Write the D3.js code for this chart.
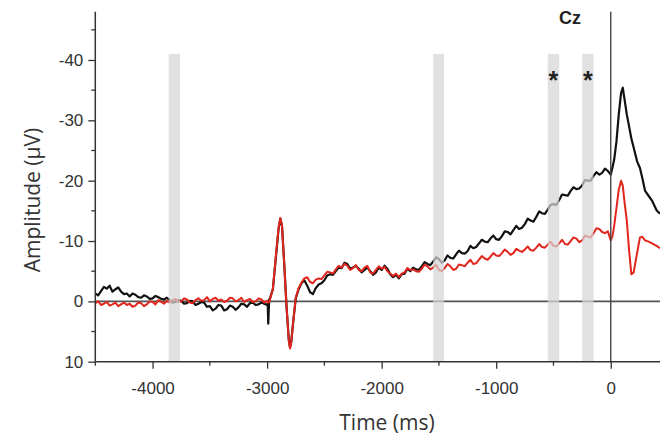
<!DOCTYPE html>
<html>
<head>
<meta charset="utf-8">
<script src="https://cdn.jsdelivr.net/npm/d3@7/dist/d3.min.js"></script>
<style>
  html, body { margin: 0; padding: 0; background: #fff; }
  svg { display: block; }
</style>
</head>
<body>
<svg id="chart" width="660" height="437"></svg>
<script>
// ---- DATA ----
const times = [
  -4500,-4475,-4450,-4425,-4400,-4375,-4350,-4325,-4300,-4275,
  -4250,-4225,-4200,-4175,-4150,-4125,-4100,-4075,-4050,-4025,
  -4000,-3975,-3950,-3925,-3900,-3875,-3850,-3825,-3800,-3775,
  -3750,-3725,-3700,-3675,-3650,-3625,-3600,-3575,-3550,-3525,
  -3500,-3475,-3450,-3425,-3400,-3375,-3350,-3325,-3300,-3275,
  -3250,-3225,-3200,-3175,-3150,-3125,-3100,-3075,-3050,
  -3025,-3000,-2995,-2990,-2982,-2975,-2950,-2925,-2900,-2885,
  -2870,-2850,-2830,-2810,-2800,-2790,-2770,-2750,-2725,-2700,
  -2675,-2650,-2625,-2600,-2575,-2550,-2525,
  -2500,-2475,-2450,-2425,-2400,-2375,-2350,-2325,-2300,-2275,
  -2250,-2225,-2200,-2175,-2150,-2125,-2100,-2075,-2050,-2025,
  -2000,-1975,-1950,-1925,-1900,-1875,-1850,-1825,-1800,-1775,
  -1750,-1725,-1700,-1675,-1650,-1625,-1600,-1575,-1550,-1525,
  -1500,-1475,-1450,-1425,-1400,-1375,-1350,-1325,-1300,-1275,
  -1250,-1225,-1200,-1175,-1150,-1125,-1100,-1075,-1050,-1025,
  -1000,-975,-950,-925,-900,-875,-850,-825,-800,-775,
  -750,-725,-700,-675,-650,-625,-600,-575,-550,-525,
  -500,-475,-450,-425,-400,-375,-350,-325,-300,-275,
  -250,-225,-200,-175,-150,-125,-100,
  -75,-50,-25,0,15,30,50,70,90,105,
  120,140,160,180,200,230,255,275,300,330,
  360,400,430
];
const blackValues = [
  -1.3,-1.0,-1.7,-2.4,-2.1,-2.6,-1.6,-2.0,-2.3,-1.6,
  -1.2,-1.3,-0.8,-1.3,-1.1,-0.7,-0.6,-1.0,-0.8,-0.4,
  -0.5,-0.9,-0.7,-0.4,-0.3,-0.6,-0.2,0.2,0.1,-0.2,
  -0.1,0.4,0.3,-0.1,0.0,0.6,0.4,0.1,0.2,0.9,
  0.8,1.5,1.2,0.6,0.7,1.5,1.3,0.7,0.9,1.4,
  1.0,0.4,0.5,0.9,0.3,0.2,0.6,0.5,0.2,
  0.4,0.6,0.4,3.7,-0.3,-0.5,-2.0,-7.0,-12.0,-13.7,
  -12.5,-6.0,1.0,6.5,7.6,6.8,3.0,-0.5,-2.0,-3.0,
  -3.5,-2.6,-1.5,-1.2,-2.2,-2.8,-3.0,
  -3.5,-4.3,-4.5,-4.4,-5.0,-5.6,-5.5,-6.4,-6.2,-5.4,
  -5.6,-5.9,-5.4,-4.8,-5.2,-5.6,-5.0,-4.4,-4.8,-5.6,
  -5.2,-5.9,-5.4,-4.5,-4.0,-4.4,-3.8,-4.5,-4.6,-5.4,
  -5.0,-5.6,-5.3,-5.2,-5.8,-6.5,-6.2,-6.0,-6.6,-7.3,
  -7.0,-6.4,-6.8,-7.6,-7.2,-7.1,-7.8,-8.4,-8.0,-7.9,
  -8.3,-9.2,-8.8,-9.0,-9.6,-10.2,-9.9,-9.8,-10.4,-10.9,
  -10.3,-10.2,-10.8,-11.6,-11.5,-11.1,-11.8,-12.5,-12.0,-12.2,
  -12.8,-13.7,-13.4,-13.2,-14.0,-14.9,-14.6,-14.5,-15.2,-16.0,
  -16.1,-16.0,-16.8,-17.7,-17.6,-17.5,-18.3,-18.9,-18.6,-18.7,
  -19.2,-20.1,-20.0,-20.0,-20.8,-21.4,-21.0,
  -21.3,-22.0,-21.6,-21.0,-22.2,-23.5,-26.5,-31.0,-34.5,-35.4,
  -33.5,-31.0,-29.0,-27.0,-25.5,-23.2,-22.1,-20.5,-18.3,-17.5,
  -16.7,-15.1,-14.5
];
const redValues = [
  0.3,0.0,0.6,0.4,0.1,0.7,0.5,0.2,0.8,0.5,
  0.2,0.6,0.4,0.9,0.7,0.2,0.3,0.8,0.5,0.0,
  0.1,0.5,-0.2,0.1,0.4,-0.1,0.2,-0.2,-0.4,0.1,
  0.0,-0.5,-0.3,0.2,0.3,-0.2,-0.5,-0.1,-0.2,-0.7,
  0.0,-0.4,-0.6,-0.1,-0.3,0.1,-0.1,-0.6,-0.5,0.0,
  -0.2,-0.6,0.1,-0.2,-0.4,0.1,0.0,-0.5,-0.3,
  0.2,-0.1,0.1,0.2,0.1,-0.3,-2.0,-7.2,-12.2,-13.8,
  -12.6,-6.0,1.0,6.6,7.8,6.9,3.0,-0.6,-2.2,-3.1,
  -3.8,-4.0,-3.2,-3.0,-3.6,-3.8,-3.7,
  -4.3,-4.9,-4.8,-4.6,-5.3,-5.9,-5.6,-6.2,-5.9,-5.2,
  -5.5,-6.0,-5.2,-5.0,-5.6,-5.9,-4.8,-4.6,-5.2,-5.8,
  -5.4,-5.7,-5.0,-4.6,-4.2,-4.6,-4.0,-4.6,-4.8,-5.5,
  -5.2,-5.3,-5.0,-4.9,-5.4,-6.1,-5.8,-5.3,-5.6,-6.1,
  -5.2,-5.0,-5.5,-6.2,-5.8,-5.2,-5.4,-6.1,-6.0,-5.8,
  -6.4,-6.9,-6.2,-6.3,-6.9,-7.5,-7.1,-6.9,-7.4,-8.0,
  -7.6,-7.5,-8.0,-8.6,-8.2,-7.7,-8.0,-8.7,-8.4,-8.2,
  -8.6,-9.1,-8.5,-8.4,-8.9,-9.5,-9.0,-8.9,-9.4,-9.9,
  -9.2,-9.1,-9.6,-10.2,-9.5,-9.4,-10.0,-10.6,-10.4,-9.8,
  -10.1,-10.9,-10.7,-10.6,-11.3,-12.1,-12.0,
  -11.5,-11.3,-11.6,-10.1,-10.8,-12.5,-15.5,-18.5,-20.0,-19.2,
  -16.5,-13.4,-8.5,-4.5,-4.8,-8.0,-10.6,-10.7,-10.1,-9.9,
  -9.6,-9.2,-8.8
];
const bandRanges = [[-3860,-3760],[-1550,-1455],[-550,-450],[-250,-150]];
const starBands = [2,3];
const xTickValues = [-4000,-3000,-2000,-1000,0];
const xMinorTicks = [-4500,-3500,-2500,-1500,-500];
const yTickValues = [-40,-30,-20,-10,0,10];
const yMinorTicks = [-45,-35,-25,-15,-5,5];
const channelLabel = "Cz";
const xTitle = "Time (ms)";
const yTitle = "Amplitude (\u00B5V)";

// ---- CHART ----
const svg = d3.select("#chart");
const x = d3.scaleLinear().domain([-4500, 430]).range([95.3, 660]);
const y = d3.scaleLinear().domain([10, -48]).range([361.7, 11.7]);
const bandTop = -41;

const n = Math.min(times.length, blackValues.length, redValues.length);
const black = times.slice(0, n).map((t,i)=>({t, v: blackValues[i]}));
const red = times.slice(0, n).map((t,i)=>({t, v: redValues[i]}));

svg.append("defs").append("clipPath").attr("id","clip")
  .append("rect").attr("x", x(-4500)).attr("y", 0).attr("width", 660 - x(-4500)).attr("height", y(10));

const line = d3.line().x(d=>x(d.t)).y(d=>y(d.v)).curve(d3.curveLinear);

const plot = svg.append("g").attr("clip-path","url(#clip)");

// zero line
plot.append("line").attr("x1", x(-4500)).attr("x2", 660).attr("y1", y(0)).attr("y2", y(0))
  .attr("stroke","#555").attr("stroke-width",1.6);

plot.append("path").datum(black).attr("d", line).attr("fill","none")
  .attr("stroke","#111").attr("stroke-width",2.2).attr("stroke-linejoin","round");
plot.append("path").datum(red).attr("d", line).attr("fill","none")
  .attr("stroke","#e0261d").attr("stroke-width",2).attr("stroke-linejoin","round");

// shaded bands over lines
plot.selectAll("rect.band").data(bandRanges).join("rect").attr("class","band")
  .attr("x", d=>x(d[0])).attr("width", d=>x(d[1])-x(d[0]))
  .attr("y", y(bandTop)).attr("height", y(10)-y(bandTop))
  .attr("fill","#d6d6d6").attr("opacity",0.72);

// vertical line at 0
svg.append("line").attr("x1", x(0)).attr("x2", x(0)).attr("y1", y(-48)).attr("y2", y(10))
  .attr("stroke","#444").attr("stroke-width",1.4);

// axes
const xAxis = d3.axisBottom(x).tickValues(xTickValues).tickSize(7).tickPadding(13)
  .tickFormat(d=>String(d));
const gx = svg.append("g").attr("transform",`translate(0,${y(10)})`).call(xAxis);
gx.select(".domain").attr("stroke","#333").attr("stroke-width",1.5)
  .attr("d", `M${x(-4500)},0H660`);
gx.selectAll(".tick line").attr("stroke","#333").attr("stroke-width",1.3);
gx.selectAll(".tick text").attr("font-family","'Liberation Sans', Arial, sans-serif")
  .attr("font-size",17).attr("fill","#333");
gx.selectAll("line.minor").data(xMinorTicks).join("line").attr("class","minor")
  .attr("x1", d=>x(d)).attr("x2", d=>x(d)).attr("y1", 0).attr("y2", 4)
  .attr("stroke","#333").attr("stroke-width",1.3);

const yAxis = d3.axisLeft(y).tickValues(yTickValues).tickSize(7).tickPadding(5)
  .tickFormat(d=>String(d));
const gy = svg.append("g").attr("transform",`translate(${x(-4500)},0)`).call(yAxis);
gy.select(".domain").attr("stroke","#333").attr("stroke-width",1.5)
  .attr("d", `M0,${y(-48)}V${y(10)}`);
gy.selectAll(".tick line").attr("stroke","#333").attr("stroke-width",1.3);
gy.selectAll(".tick text").attr("font-family","'Liberation Sans', Arial, sans-serif")
  .attr("font-size",17).attr("fill","#333");
gy.selectAll("line.minor").data(yMinorTicks).join("line").attr("class","minor")
  .attr("x1", -4).attr("x2", 0).attr("y1", d=>y(d)).attr("y2", d=>y(d))
  .attr("stroke","#333").attr("stroke-width",1.3);

// titles
svg.append("text").attr("x", 387).attr("y", 430).attr("text-anchor","middle")
  .attr("font-family","'Open Sans', sans-serif").attr("font-size",21).attr("fill","#333")
  .text(xTitle);
svg.append("text").attr("transform",`translate(40,200) rotate(-90)`).attr("text-anchor","middle")
  .attr("font-family","'Open Sans', sans-serif").attr("font-size",21).attr("fill","#333")
  .text(yTitle);

// channel label
svg.append("text").attr("x", 570).attr("y", 24).attr("text-anchor","middle")
  .attr("font-family","'Liberation Sans', Arial, sans-serif").attr("font-weight","bold")
  .attr("font-size",18).attr("fill","#222").text(channelLabel);

// asterisks
svg.selectAll("text.star").data(starBands.map(i=>bandRanges[i])).join("text").attr("class","star")
  .attr("x", d=>x((d[0]+d[1])/2)).attr("y", 89).attr("text-anchor","middle")
  .attr("font-family","'Liberation Sans', Arial, sans-serif").attr("font-weight","bold")
  .attr("font-size",25).attr("fill","#222").text("*");
</script>
</body>
</html>
